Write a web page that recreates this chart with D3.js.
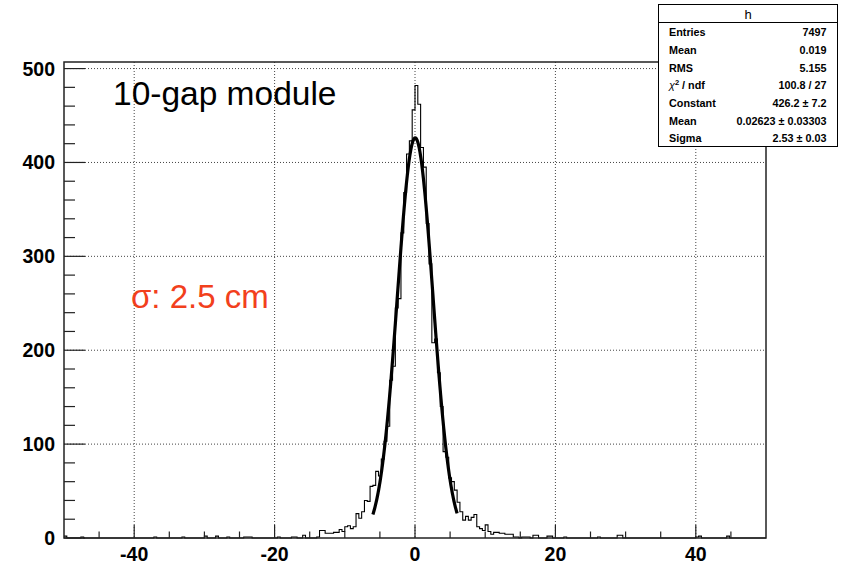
<!DOCTYPE html>
<html>
<head>
<meta charset="utf-8">
<script src="https://cdn.jsdelivr.net/npm/d3@7"></script>
<style>
  body { margin: 0; background: #fff; }
  svg { display: block; }
</style>
</head>
<body>
<div class="chart"></div>
<script>
var svgWidth = 844;
var svgHeight = 565;

// histogram binning (250 bins of 0.4 from -50 to 50)
var binLow = -50, binHigh = 50, binWidth = 0.4;

// counts for the central bins, starting at lower edge -11.2
var coreStart = -11.2;
var coreCounts = [6, 9, 7, 12, 13, 10, 12, 26, 21, 28, 40, 39, 55, 56, 71, 66, 84, 103, 119, 168,
                  183, 245, 255, 325, 368, 409, 423, 456,
                  482, 462, 416, 395, 335, 292, 208, 212, 176, 140, 92, 86, 64, 60, 51, 38,
                  28, 19, 23, 19, 22, 25, 12, 10, 8, 14, 7, 4];

// sparse tail bins: [lower edge, count]
var tailBins = [[-50.0, 2], [-47.6, 1], [-37.2, 1], [-33.2, 1], [-30.0, 2], [-28.4, 2], [-26.8, 1],
                [-24.4, 1], [-24.0, 1], [-23.6, 1], [-19.6, 1], [-17.6, 1], [-17.2, 1], [-16.0, 3],
                [-14.0, 1], [-13.6, 8], [-13.2, 8], [-12.8, 5], [-12.4, 5], [-12.0, 5], [-11.6, 6],
                [11.2, 6], [11.6, 6], [12.0, 5], [12.4, 5], [12.8, 4], [13.2, 4], [13.6, 4], [14.0, 1],
                [14.4, 1], [15.2, 1], [15.6, 1], [16.0, 1], [16.8, 3], [17.2, 3], [18.8, 2], [19.2, 2],
                [21.2, 1], [26.0, 1], [28.8, 3], [29.2, 3], [40.0, 1], [40.4, 2], [44.4, 2]];

// gaussian fit parameters (from the stats box)
var fitConst = 426.2, fitMean = 0.02623, fitSigma = 2.53;
var fitRange = [-6, 6];

var xMajorTicks = [-40, -20, 0, 20, 40];
var xMinorTicks = [-45, -35, -30, -25, -15, -10, -5, 5, 10, 15, 25, 30, 35, 45];
var yMajorTicks = [0, 100, 200, 300, 400, 500];
var yMinorTicks = d3.range(20, 507, 20).filter(v => v % 100 != 0);

var statsTitle = "h";
var statsLabels = ["Entries", "Mean", "RMS", "CHI", "Constant", "Mean", "Sigma"];
var statsValues = ["7497", "0.019", "5.155", "100.8 / 27", "426.2 \u00b1 7.2", "0.02623 \u00b1 0.03303", "2.53 \u00b1 0.03"];

var margin = {top: 62, right: 78, bottom: 27, left: 64};
var width = svgWidth - margin.left - margin.right;
var height = svgHeight - margin.top - margin.bottom;

var svg = d3.select(".chart")
    .append("svg")
    .attr("width", svgWidth)
    .attr("height", svgHeight);

var chartGroup = svg.append("g")
    .attr("transform", `translate(${margin.left}, ${margin.top})`);

var xScale = d3.scaleLinear().domain([binLow, binHigh]).range([0, width]);
var yScale = d3.scaleLinear().domain([0, 507]).range([height, 0]);

// build full bin array
var nBins = Math.round((binHigh - binLow) / binWidth);
var counts = new Array(nBins).fill(0);
coreCounts.forEach((c, i) => {
    counts[Math.round((coreStart - binLow) / binWidth) + i] = c;
});
tailBins.forEach(d => {
    counts[Math.round((d[0] - binLow) / binWidth)] = d[1];
});

// grid
chartGroup.selectAll(".xgrid")
    .data(xMajorTicks)
    .join("line")
    .attr("x1", d => xScale(d)).attr("x2", d => xScale(d))
    .attr("y1", 0).attr("y2", height)
    .attr("stroke", "#444").attr("stroke-width", 1)
    .attr("stroke-dasharray", "1,2");

chartGroup.selectAll(".ygrid")
    .data(yMajorTicks.filter(d => d > 0))
    .join("line")
    .attr("x1", 0).attr("x2", width)
    .attr("y1", d => yScale(d)).attr("y2", d => yScale(d))
    .attr("stroke", "#444").attr("stroke-width", 1)
    .attr("stroke-dasharray", "1,2");

// histogram outline
var pts = counts.map((c, i) => [binLow + i * binWidth, c]);
pts.push([binHigh, counts[nBins - 1]]);
var histLine = d3.line()
    .x(d => xScale(d[0]))
    .y(d => yScale(d[1]))
    .curve(d3.curveStepAfter);
chartGroup.append("path")
    .attr("d", histLine(pts))
    .attr("fill", "none")
    .attr("stroke", "#000")
    .attr("stroke-width", 1.1);

// gaussian fit
var fitPts = d3.range(fitRange[0], fitRange[1] + 0.001, 0.05).map(x =>
    [x, fitConst * Math.exp(-0.5 * Math.pow((x - fitMean) / fitSigma, 2))]);
chartGroup.append("path")
    .attr("d", d3.line().x(d => xScale(d[0])).y(d => yScale(d[1]))(fitPts))
    .attr("fill", "none")
    .attr("stroke", "#000")
    .attr("stroke-width", 3.2)
    .attr("stroke-linejoin", "round");

// frame
chartGroup.append("rect")
    .attr("x", 0).attr("y", 0)
    .attr("width", width).attr("height", height)
    .attr("fill", "none")
    .attr("stroke", "#222")
    .attr("stroke-width", 1.5);

// ticks
chartGroup.selectAll(".xmaj")
    .data(xMajorTicks).join("line")
    .attr("x1", d => xScale(d)).attr("x2", d => xScale(d))
    .attr("y1", height).attr("y2", height - 13)
    .attr("stroke", "#222").attr("stroke-width", 1.2);
chartGroup.selectAll(".xmin")
    .data(xMinorTicks).join("line")
    .attr("x1", d => xScale(d)).attr("x2", d => xScale(d))
    .attr("y1", height).attr("y2", height - 6.5)
    .attr("stroke", "#222").attr("stroke-width", 1.2);
chartGroup.selectAll(".ymaj")
    .data(yMajorTicks).join("line")
    .attr("x1", 0).attr("x2", 21)
    .attr("y1", d => yScale(d)).attr("y2", d => yScale(d))
    .attr("stroke", "#222").attr("stroke-width", 1.2);
chartGroup.selectAll(".ymin")
    .data(yMinorTicks).join("line")
    .attr("x1", 0).attr("x2", 11)
    .attr("y1", d => yScale(d)).attr("y2", d => yScale(d))
    .attr("stroke", "#222").attr("stroke-width", 1.2);

// tick labels
chartGroup.selectAll(".xlab")
    .data(xMajorTicks).join("text")
    .attr("x", d => xScale(d))
    .attr("y", height + 23)
    .attr("text-anchor", "middle")
    .attr("font-family", "Liberation Sans, Arial, sans-serif")
    .attr("font-weight", "bold")
    .attr("font-size", "19.5px")
    .text(d => d);
chartGroup.selectAll(".ylab")
    .data(yMajorTicks).join("text")
    .attr("x", -9)
    .attr("y", d => yScale(d) + 7)
    .attr("text-anchor", "end")
    .attr("font-family", "Liberation Sans, Arial, sans-serif")
    .attr("font-weight", "bold")
    .attr("font-size", "19.5px")
    .text(d => d);

// annotations
svg.append("text")
    .attr("x", 113).attr("y", 105)
    .attr("font-family", "Liberation Sans, Arial, sans-serif")
    .attr("font-size", "33.5px")
    .attr("fill", "#000")
    .text("10-gap module");
svg.append("text")
    .attr("x", 131).attr("y", 308)
    .attr("font-family", "Liberation Sans, Arial, sans-serif")
    .attr("font-size", "33px")
    .attr("fill", "#f2401c")
    .text("\u03c3: 2.5 cm");

// stats box
var statsBox = svg.append("g").attr("transform", "translate(658.5, 4.5)");
statsBox.append("rect")
    .attr("width", 179).attr("height", 142)
    .attr("fill", "#fff").attr("stroke", "#000").attr("stroke-width", 1);
statsBox.append("line")
    .attr("x1", 0).attr("x2", 179).attr("y1", 18).attr("y2", 18)
    .attr("stroke", "#000").attr("stroke-width", 1);
statsBox.append("text")
    .attr("x", 89.5).attr("y", 14)
    .attr("text-anchor", "middle")
    .attr("font-family", "Liberation Sans, Arial, sans-serif")
    .attr("font-size", "13px")
    .text(statsTitle);

var rowY = d3.scaleLinear().domain([0, 6]).range([31.8, 137.8]);
statsLabels.forEach((lab, i) => {
    var t = statsBox.append("text")
        .attr("x", 10.5).attr("y", rowY(i))
        .attr("font-family", "Liberation Sans, Arial, sans-serif")
        .attr("font-weight", "bold")
        .attr("font-size", "10.8px");
    if (lab == "CHI") {
        t.append("tspan").attr("font-weight", "normal").attr("font-style", "italic").text("\u03c7");
        t.append("tspan").attr("font-size", "7.5px").attr("dy", -4.5).text("2");
        t.append("tspan").attr("dy", 4.5).text(" / ndf");
    } else {
        t.text(lab);
    }
    statsBox.append("text")
        .attr("x", 168).attr("y", rowY(i))
        .attr("text-anchor", "end")
        .attr("font-family", "Liberation Sans, Arial, sans-serif")
        .attr("font-weight", "bold")
        .attr("font-size", "10.8px")
        .text(statsValues[i]);
});
</script>
</body>
</html>
